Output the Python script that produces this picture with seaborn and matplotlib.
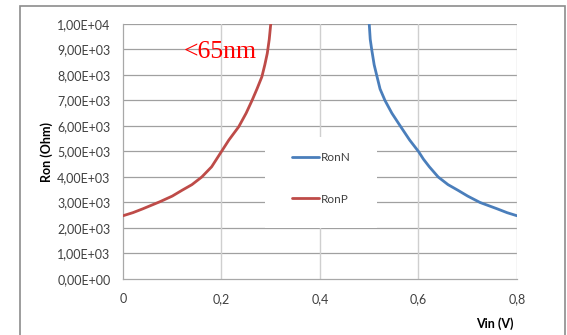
"""
Ron vs Vin chart (RonN / RonP) in the style of an Excel line chart
"""

import matplotlib
matplotlib.use("Agg")
import matplotlib.pyplot as plt
import matplotlib.ticker as mticker
from matplotlib.patches import Rectangle
import seaborn as sns
import pandas as pd

# values
vin_n = [0.5, 0.502, 0.505, 0.51, 0.515, 0.522, 0.532, 0.546, 0.563, 0.582,
         0.6, 0.61, 0.622, 0.64, 0.66, 0.68, 0.7, 0.725, 0.76, 0.78, 0.8]
ron_n = [10000, 9400, 9000, 8400, 8000, 7450, 7000, 6500, 6000, 5450,
         5000, 4700, 4400, 4000, 3700, 3480, 3250, 3000, 2750, 2600, 2480]
vin_p = [0.0, 0.02, 0.04, 0.075, 0.1, 0.12, 0.14, 0.16, 0.18, 0.19, 0.2,
         0.215, 0.235, 0.25, 0.262, 0.272, 0.282, 0.288, 0.293, 0.297, 0.3]
ron_p = [2480, 2600, 2750, 3030, 3250, 3480, 3700, 4000, 4400, 4700, 5000,
         5450, 5970, 6500, 7000, 7450, 7930, 8400, 8850, 9400, 10000]

x_ticks = [0, 0.2, 0.4, 0.6, 0.8]
y_ticks = list(range(0, 10001, 1000))

blue = "#4a7ebb"
red = "#be4b48"

sns.set_style("white")
plt.rcParams["font.family"] = ["Lato", "DejaVu Sans"]

df = pd.concat([
    pd.DataFrame({"Vin": vin_n, "Ron": ron_n, "serie": "RonN"}),
    pd.DataFrame({"Vin": vin_p, "Ron": ron_p, "serie": "RonP"}),
])

fig = plt.figure(figsize=(5.67, 3.35), dpi=100)
ax = fig.add_axes([0.2169, 0.1672, 0.6949, 0.7612])

# outer chart frame
fig.patches.append(Rectangle((20 / 567, -0.05), 545 / 567, 1.05 - 6 / 335,
                             transform=fig.transFigure, fill=False,
                             edgecolor="#8c8c8c", linewidth=1.2))

sns.lineplot(data=df, x="Vin", y="Ron", hue="serie", palette=[blue, red],
             sort=False, linewidth=2.0, ax=ax, legend=False, zorder=3)

ax.set_xlim(0, 0.8)
ax.set_ylim(0, 10000)
ax.set_xticks(x_ticks)
ax.set_yticks(y_ticks)
ax.xaxis.set_major_formatter(mticker.FuncFormatter(
    lambda v, p: "0" if v == 0 else ("%g" % round(v, 1)).replace(".", ",")))
ax.yaxis.set_major_formatter(mticker.FuncFormatter(
    lambda v, p: ("%.2E" % v).replace(".", ",")))

# grid like excel: darker horizontal, lighter vertical
for y in y_ticks[1:]:
    ax.axhline(y, color="#a0a0a0", linewidth=0.9, zorder=0)
for x in x_ticks[1:]:
    ax.axvline(x, color="#cfcfcf", linewidth=1.0, zorder=0)

for s in ["top", "right"]:
    ax.spines[s].set_visible(False)
for s in ["left", "bottom"]:
    ax.spines[s].set_color("#a8a8a8")
    ax.spines[s].set_linewidth(0.9)

ax.tick_params(axis="both", which="major", direction="out", length=4,
               width=0.8, color="#a8a8a8", labelsize=9, labelcolor="#404040")
ax.tick_params(axis="y", pad=5)
ax.tick_params(axis="x", pad=6)

ax.set_xlabel("")
ax.set_ylabel("")
fig.text(47 / 567, 1 - 152 / 335, "Ron (Ohm)", rotation=90, ha="center",
         va="center", fontsize=9, fontweight="bold", color="#000000")
fig.text(495 / 567, 1 - 324 / 335, "Vin (V)", ha="center", va="center",
         fontsize=9, fontweight="bold", color="#000000")

ax.text(0.198, 8900, "<65nm", color="red", fontsize=18.5,
        family=["Liberation Serif"], ha="center", va="center", zorder=4)

# white box of the legend hiding the grid
ax.add_patch(Rectangle((0.360, 0.200), 0.285, 0.357, transform=ax.transAxes,
                       facecolor="white", edgecolor="none", zorder=1.5))

h1, = ax.plot([], [], color=blue, linewidth=2.0, label="RonN")
h2, = ax.plot([], [], color=red, linewidth=2.0, label="RonP")
leg = ax.legend(handles=[h1, h2], loc="center", bbox_to_anchor=(0.503, 0.395),
                frameon=False, fontsize=8.5, handlelength=2.3,
                handletextpad=0.15, labelspacing=2.6, borderpad=0.2,
                borderaxespad=0)
for t in leg.get_texts():
    t.set_color("#404040")

plt.savefig("out.png", dpi=100)
